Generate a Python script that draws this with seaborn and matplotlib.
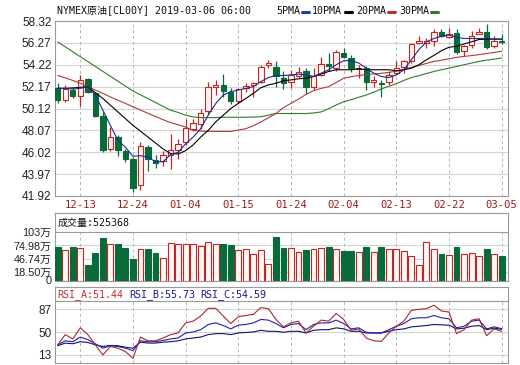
import numpy as np
import seaborn as sns
import matplotlib
matplotlib.use('Agg')
import matplotlib.pyplot as plt
from matplotlib.lines import Line2D

# daily candles (index 0 = 12-10 ... index 59 = 03-05)
opens = [52.01, 50.91, 51.85, 51.32, 52.86, 51.54, 49.43, 46.33, 47.44, 46.17,
         45.39, 42.93, 46.55, 45.33, 45.23, 45.77, 46.27, 46.96, 48.23, 48.70,
         49.87, 52.17, 52.33, 51.70, 50.81, 52.01, 52.33, 52.64, 54.16, 53.97,
         52.96, 52.64, 53.21, 53.65, 52.17, 53.27, 54.28, 53.90, 55.32, 54.85,
         53.81, 53.90, 52.64, 52.49, 52.58, 53.43, 53.97, 54.53, 56.27, 56.27,
         56.49, 57.31, 56.84, 57.22, 55.54, 56.11, 57.12, 57.31, 55.95, 56.49]
highs = [52.48, 52.33, 52.00, 53.27, 52.96, 51.63, 49.80, 48.38, 47.60, 46.33,
         45.55, 46.96, 46.71, 45.77, 46.17, 47.75, 47.28, 49.17, 49.17, 50.12,
         52.64, 52.80, 53.34, 52.07, 52.07, 52.49, 52.64, 54.16, 54.69, 54.60,
         53.65, 53.75, 53.97, 53.90, 53.90, 54.91, 55.32, 55.64, 55.80, 55.17,
         54.22, 54.06, 53.21, 52.80, 53.59, 54.53, 54.69, 56.27, 56.90, 56.74,
         57.53, 57.53, 57.69, 57.53, 56.11, 57.37, 57.69, 58.00, 56.90, 57.06]
lows = [50.59, 50.75, 51.06, 50.37, 51.54, 49.30, 46.08, 46.18, 45.64, 45.13,
        42.30, 42.48, 44.28, 44.50, 44.76, 44.44, 45.39, 46.71, 47.97, 48.23,
        49.65, 51.38, 51.22, 50.50, 50.59, 51.69, 51.22, 52.49, 53.90, 52.17,
        51.92, 52.07, 52.96, 51.44, 51.85, 53.12, 53.59, 53.59, 54.85, 53.53,
        52.96, 51.85, 52.17, 51.22, 52.33, 53.27, 53.43, 54.38, 56.17, 55.80,
        55.95, 56.80, 56.74, 55.23, 55.01, 55.80, 57.06, 55.74, 55.80, 56.17]
closes = [50.91, 51.95, 51.32, 52.80, 51.63, 49.43, 46.27, 47.44, 46.27, 45.39,
          42.71, 46.65, 45.39, 45.01, 45.77, 46.27, 46.80, 48.29, 48.76, 49.74,
          52.17, 52.33, 51.76, 50.81, 51.95, 52.26, 52.49, 53.97, 54.38, 53.21,
          52.55, 53.27, 53.53, 52.17, 53.12, 54.28, 54.06, 55.39, 54.91, 53.90,
          53.90, 52.58, 52.80, 52.42, 53.27, 53.90, 54.53, 56.17, 56.49, 56.43,
          57.31, 56.90, 57.06, 55.39, 55.95, 56.90, 57.31, 55.86, 56.49, 56.37]

ma5 = [52.01, 52.00, 51.95, 52.01, 52.17, 51.38, 49.96, 48.54, 47.12, 46.49,
       45.64, 45.70, 45.55, 45.13, 45.13, 45.80, 46.02, 46.80, 47.44, 48.23,
       49.49, 50.59, 51.38, 51.70, 51.85, 52.01, 52.17, 52.64, 53.02, 53.21,
       53.21, 53.27, 53.34, 53.27, 53.12, 53.43, 53.75, 54.22, 54.60, 54.60,
       54.38, 53.90, 53.43, 53.12, 53.02, 53.27, 53.75, 54.69, 55.64, 56.37,
       56.68, 56.90, 56.99, 56.80, 56.68, 56.68, 56.68, 56.68, 56.62, 56.62]
ma10 = [52.01, 52.01, 52.05, 52.10, 52.17, 51.60, 51.06, 50.43, 49.80, 49.17,
        48.54, 47.99, 47.44, 46.89, 46.33, 45.90, 45.86, 46.17, 46.71, 47.44,
        48.07, 48.86, 49.49, 50.12, 50.60, 51.06, 51.54, 52.07, 52.33, 52.49,
        52.71, 52.80, 52.90, 52.96, 53.12, 53.34, 53.59, 53.75, 53.75, 53.75,
        53.84, 53.75, 53.75, 53.75, 53.75, 53.65, 53.75, 53.90, 54.22, 54.69,
        55.10, 55.54, 55.86, 55.95, 56.17, 56.37, 56.59, 56.62, 56.62, 56.62]
ma20 = [53.21, 53.00, 52.75, 52.50, 52.17, 51.85, 51.54, 51.20, 50.90, 50.60,
        50.28, 49.97, 49.67, 49.37, 49.07, 48.80, 48.60, 48.38, 48.07, 48.00,
        47.98, 47.97, 47.97, 47.97, 48.10, 48.23, 48.50, 48.86, 49.25, 49.65,
        50.20, 50.60, 51.00, 51.44, 51.80, 52.00, 52.17, 52.55, 52.96, 53.10,
        53.21, 53.30, 53.36, 53.42, 53.50, 53.62, 53.80, 53.97, 54.15, 54.35,
        54.53, 54.65, 54.78, 54.91, 55.00, 55.08, 55.17, 55.27, 55.38, 55.48]
ma30 = [56.36, 55.90, 55.44, 54.98, 54.52, 54.06, 53.60, 53.14, 52.68, 52.22,
        51.76, 51.40, 51.04, 50.68, 50.32, 49.96, 49.75, 49.49, 49.33, 49.27,
        49.27, 49.27, 49.30, 49.30, 49.30, 49.30, 49.32, 49.35, 49.50, 49.65,
        49.65, 49.65, 49.65, 49.65, 49.70, 49.80, 50.10, 50.45, 50.75, 50.95,
        51.17, 51.38, 51.65, 51.95, 52.20, 52.45, 52.75, 53.02, 53.20, 53.40,
        53.59, 53.75, 53.90, 54.06, 54.22, 54.38, 54.53, 54.65, 54.75, 54.85]

# volume in 万 (10k)
volume = [71.5, 64.4, 70.8, 70.1, 32.2, 58.7, 90.8, 78.7, 77.3, 68.7,
          45.1, 68.0, 66.5, 58.7, 48.6, 80.8, 77.3, 78.7, 78.7, 73.0,
          83.0, 78.7, 77.3, 75.1, 65.8, 68.0, 55.8, 65.8, 34.3, 93.0,
          69.4, 70.1, 60.8, 64.4, 66.5, 70.1, 71.5, 66.5, 62.9, 62.9,
          60.8, 71.5, 60.8, 71.5, 68.0, 68.0, 62.9, 51.5, 32.2, 82.2,
          68.0, 55.8, 53.6, 71.5, 55.8, 58.7, 51.5, 66.5, 55.8, 52.5]

rsi_a = [29.5, 46, 39, 57, 46, 29.5, 13, 26.8, 24, 18.5,
         7.6, 42, 36, 36, 40.5, 46, 48.7, 65, 67.8, 76,
         88.6, 88.6, 76, 64, 75, 77, 78.8, 89.8, 88, 70.6,
         58.6, 65, 67.8, 48.7, 59.6, 69.5, 67.8, 80.4, 70.6, 53,
         55.3, 40.5, 36, 35, 48.7, 59.6, 67.8, 85.4, 87, 88,
         93.6, 84.3, 82.6, 47.6, 54, 69.5, 71.7, 44.3, 55.3, 51.44]
rsi_b = [29.5, 36, 34.5, 42, 38, 31.2, 24, 28, 26.8, 24,
         20, 36, 34.5, 34.5, 36.6, 39, 40.5, 48.7, 50.3, 54,
         62.4, 65, 60.7, 55.3, 61.3, 62.4, 65, 70.6, 69.5, 64,
         57, 62.4, 64, 54, 62.4, 65, 65, 69.5, 64, 55.3,
         57, 49.8, 48.7, 48.7, 54, 59.6, 64, 71.7, 73.3, 73.3,
         77, 73.3, 71.7, 57, 59.6, 67.8, 69.5, 55.3, 58.6, 55.73]
rsi_c = [28, 32.3, 31.2, 34.5, 33.3, 29.5, 26.8, 28.5, 28, 25.6,
         24, 33.8, 32.3, 32.3, 33.8, 34.5, 36, 39, 40.5, 42,
         46, 47.6, 47.6, 46, 48.7, 49.5, 50.3, 53, 51.4, 51.4,
         49.8, 51.4, 51.4, 48.7, 53, 54, 54, 57, 55.3, 51.4,
         51.4, 48.7, 48.7, 48.7, 51.4, 54, 55.3, 58.6, 59.6, 60.7,
         62.4, 61.8, 61.3, 55.3, 56.4, 59.6, 60.7, 54, 56.4, 54.59]

date_pos = [3, 10, 17, 24, 31, 38, 45, 52, 59]
date_labels = ['12-13', '12-24', '01-04', '01-15', '01-24', '02-04', '02-13', '02-22', '03-05']
price_ticks = [41.92, 43.97, 46.02, 48.07, 50.12, 52.17, 54.22, 56.27, 58.32]
vol_ticks = [0, 18.50, 46.74, 74.98, 103]
vol_labels = ['0', '18.50万', '46.74万', '74.98万', '103万']
rsi_ticks = [13, 50, 87]

sns.set_style('white')
plt.rcParams['font.family'] = ['Liberation Sans', 'Noto Sans CJK SC', 'DejaVu Sans']
mono = ['DejaVu Sans Mono', 'Noto Sans CJK SC']
MFS = 7.2

RED = '#c42424'
RED_FILL = '#fff6f6'
GREEN = '#0a6b3a'
GRID = '#d4d4d4'
VGRID = '#b4b4b4'
SPINE = '#9a9a9a'

W, H = 520, 365
fig = plt.figure(figsize=(5.2, 3.65), dpi=100)


def box(top, bottom):
    return [55 / W, 1 - bottom / H, 453 / W, (bottom - top) / H]


ax = fig.add_axes(box(21, 196))
axv = fig.add_axes(box(213, 280.5))
axr = fig.add_axes(box(287, 363))

idx = np.arange(len(closes))
o = np.array(opens)
c = np.array(closes)
up = c >= o
edge = np.where(up, RED, GREEN)
face = np.where(up, RED_FILL, GREEN)

# --- candles
ax.vlines(idx, lows, highs, colors=edge, lw=0.9, zorder=2)
ax.bar(idx, np.maximum(np.abs(c - o), 0.05), bottom=np.minimum(o, c), width=0.72,
       color=face, edgecolor=edge, linewidth=0.8, zorder=3)
for ma, col in [(ma30, '#2f7d2f'), (ma20, '#b03a3a'), (ma10, '#000000'), (ma5, '#1c2c8c')]:
    sns.lineplot(x=idx, y=ma, ax=ax, color=col, linewidth=0.8, legend=False, zorder=4)

ax.set_ylim(41.92, 58.32)
ax.set_yticks(price_ticks)
ax.set_yticklabels(['%.2f' % t for t in price_ticks], fontsize=8.5, color='#222222')
for t in price_ticks[1:-1]:
    ax.axhline(t, color=GRID, lw=0.8, zorder=0)
ax.vlines(date_pos, 41.92, 58.32, colors=VGRID, lw=0.7, linestyles=(0, (3, 3)), zorder=0)
ax.set_xticks(date_pos)
ax.set_xticklabels(date_labels, fontsize=7.6, color='#9b1c1c', family=mono)

# --- volume
axv.bar(idx, volume, width=0.78, color=face, edgecolor=edge, linewidth=0.8, zorder=3)
vtop = 103 * (280.5 - 213) / (280.5 - 232.3)
axv.set_ylim(0, vtop)
axv.set_yticks(vol_ticks)
axv.set_yticklabels(vol_labels, fontsize=7.8, color='#222222')
for t in vol_ticks[1:-1]:
    axv.axhline(t, color=GRID, lw=0.8, zorder=0)
axv.axhline(103, color=SPINE, lw=0.8)
axv.vlines(date_pos, 0, 103, colors=VGRID, lw=0.7, linestyles=(0, (3, 3)), zorder=0)
axv.text(0.006, (103 + vtop) / 2, '成交量:525368', transform=axv.get_yaxis_transform(),
         fontsize=MFS, family=mono, va='center', ha='left', color='#111111')

# --- RSI
for vals, col in [(rsi_c, '#12126a'), (rsi_b, '#2020b0'), (rsi_a, '#a82a2a')]:
    sns.lineplot(x=idx, y=vals, ax=axr, color=col, linewidth=0.8, legend=False, zorder=4)
rtop = 100 * (363 - 287) / (363 - 301.3)
axr.set_ylim(0, rtop)
axr.set_yticks(rsi_ticks)
axr.set_yticklabels([str(t) for t in rsi_ticks], fontsize=8.5, color='#222222')
for t in rsi_ticks:
    axr.axhline(t, color=GRID, lw=0.8, zorder=0)
axr.axhline(100, color=SPINE, lw=0.8)
axr.vlines(date_pos, 0, 100, colors=VGRID, lw=0.7, linestyles=(0, (3, 3)), zorder=0)
hy = (100 + rtop) / 2
for xf, txt, col in [(0.005, 'RSI_A:51.44', '#c03030'), (0.163, 'RSI_B:55.73', '#1a1a90'),
                     (0.320, 'RSI_C:54.59', '#1a1a90')]:
    axr.text(xf, hy, txt, transform=axr.get_yaxis_transform(), fontsize=MFS, family=mono,
             va='center', ha='left', color=col)

for a in (ax, axv, axr):
    a.set_xlim(-0.36, 59.84)
    a.set_xlabel('')
    a.set_ylabel('')
    a.tick_params(length=0, pad=2.5)
    for s in a.spines.values():
        s.set_color(SPINE)
        s.set_linewidth(0.8)
axv.set_xticks([])
axr.set_xticks([])
ax.tick_params(axis='x', pad=3)

# --- title and legend
fig.text(57 / W, 1 - 10 / H, 'NYMEX原油[CL00Y] 2019-03-06 06:00', fontsize=MFS,
         family=mono, va='center', ha='left', color='#111111')
legend_items = [(276, '5PMA', 302, '#2040a8'), (312, '10PMA', 345, '#000000'),
                (356, '20PMA', 388, '#c03030'), (399, '30PMA', 431, '#2f7d2f')]
for tx, name, lx, col in legend_items:
    fig.text(tx / W, 1 - 11 / H, name, fontsize=MFS, family=mono, va='center',
             ha='left', color='#111111')
    fig.add_artist(Line2D([lx / W, (lx + 6.5) / W], [1 - 11.5 / H, 1 - 11.5 / H],
                          transform=fig.transFigure, color=col, lw=2.2))

fig.savefig('out.png', dpi=100)
